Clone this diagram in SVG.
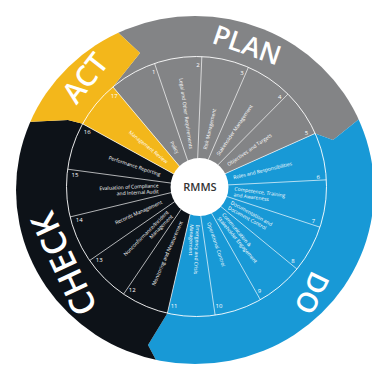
<svg xmlns="http://www.w3.org/2000/svg" width="372" height="367" viewBox="0 0 372 367">
  <defs>
    <clipPath id="wheel-clip">
      <ellipse cx="195" cy="190" rx="179" ry="174"/>
    </clipPath>
    <style>
      .divider { stroke: #ffffff; stroke-width: 0.8; stroke-opacity: 0.85; }
      .ring { fill: none; stroke: #ffffff; stroke-width: 1; stroke-opacity: 0.9; }
      .phase { font-family: "Open Sans", "Liberation Sans", sans-serif; font-weight: 600; fill: #ffffff; text-anchor: middle; }
      .lbl { font-family: "Open Sans", "Liberation Sans", sans-serif; font-size: 5px; fill: #ffffff; }
      .lbl-r { text-anchor: start; }
      .lbl-l { text-anchor: end; }
      .num { font-family: "Open Sans", "Liberation Sans", sans-serif; font-size: 6px; fill: #ffffff; text-anchor: middle; dominant-baseline: central; }
      .hub-text { font-family: "Open Sans", "Liberation Sans", sans-serif; font-weight: 600; font-size: 11px; fill: #333333; text-anchor: middle; }
    </style>
  </defs>

  <rect width="372" height="367" fill="#ffffff"/>

  <!-- PDCA bands: each ends in a chevron pointing clockwise -->
  <g id="bands" clip-path="url(#wheel-clip)">
    <polygon id="band-plan" fill="#838486" points="196.5,186.5 112.94,86.92 140,53 95,11 151.35,-69.55 285.43,-57.82 395.67,19.37 384,99 333,140 315.15,133.38"/>
    <polygon id="band-do" fill="#1899d6" points="196.5,186.5 315.15,133.38 333,140 384,99 456.5,186.5 421.67,316.5 326.5,411.67 196.5,446.5 166,379 148,345 167.39,313.2"/>
    <polygon id="band-check" fill="#0d1218" points="196.5,186.5 167.39,313.2 148,345 166,379 66.5,411.67 -28.67,316.5 -63.5,186.5 5,123 68,120 82.59,123.83"/>
    <polygon id="band-act" fill="#f3b71b" points="196.5,186.5 82.59,123.83 68,120 5,123 -28.67,56.5 66.5,-38.67 95,11 140,53 112.94,86.92"/>
  </g>

  <!-- inner ring outline and the 17 element dividers -->
  <g id="dividers">
    <circle class="ring" cx="196.5" cy="186.5" r="130"/>
    <line class="divider" x1="196.5" y1="186.5" x2="112.94" y2="86.92"/>
    <line class="divider" x1="196.5" y1="186.5" x2="154.56" y2="63.45"/>
    <line class="divider" x1="196.5" y1="186.5" x2="201.83" y2="56.61"/>
    <line class="divider" x1="196.5" y1="186.5" x2="248.40" y2="67.30"/>
    <line class="divider" x1="196.5" y1="186.5" x2="287.96" y2="94.11"/>
    <line class="divider" x1="196.5" y1="186.5" x2="315.15" y2="133.38"/>
    <line class="divider" x1="196.5" y1="186.5" x2="326.33" y2="179.83"/>
    <line class="divider" x1="196.5" y1="186.5" x2="319.97" y2="227.19"/>
    <line class="divider" x1="196.5" y1="186.5" x2="296.94" y2="269.04"/>
    <line class="divider" x1="196.5" y1="186.5" x2="260.34" y2="299.74"/>
    <line class="divider" x1="196.5" y1="186.5" x2="215.13" y2="315.16"/>
    <line class="divider" x1="196.5" y1="186.5" x2="167.39" y2="313.20"/>
    <line class="divider" x1="196.5" y1="186.5" x2="123.57" y2="294.11"/>
    <line class="divider" x1="196.5" y1="186.5" x2="89.64" y2="260.52"/>
    <line class="divider" x1="196.5" y1="186.5" x2="70.11" y2="216.92"/>
    <line class="divider" x1="196.5" y1="186.5" x2="67.66" y2="169.20"/>
    <line class="divider" x1="196.5" y1="186.5" x2="82.59" y2="123.83"/>
  </g>

  <!-- phase titles -->
  <g id="plan"><text class="phase" font-size="27" transform="translate(247 45) rotate(19)" y="9.6">PLAN</text></g>
  <g id="do"><text class="phase" font-size="28" transform="translate(312 293) rotate(116)" y="10">DO</text></g>
  <g id="check"><text class="phase" font-size="34" transform="translate(64 264) rotate(-115)" y="12.1">CHECK</text></g>
  <g id="act"><text class="phase" font-size="29" transform="translate(85 78) rotate(-52)" y="10.3">ACT</text></g>

  <!-- elements 1-17 -->
  <g id="seg-1">
    <text class="lbl lbl-l" transform="translate(196.5 186.5) rotate(60.6)" x="-38" y="1.75">Policy</text>
    <text class="num" x="153.83" y="72.2">1</text>
  </g>
  <g id="seg-2">
    <text class="lbl lbl-l" transform="translate(196.5 186.5) rotate(81.8)" x="-38" y="1.75">Legal and Other Requirements</text>
    <text class="num" x="197.99" y="64.51">2</text>
  </g>
  <g id="seg-3">
    <text class="lbl lbl-r" transform="translate(196.5 186.5) rotate(-77)" x="38" y="1.75">Risk Management</text>
    <text class="num" x="241.97" y="73.3">3</text>
  </g>
  <g id="seg-4">
    <text class="lbl lbl-r" transform="translate(196.5 186.5) rotate(-55.9)" x="38" y="1.75">Stakeholder Management</text>
    <text class="num" x="279.78" y="97.34">4</text>
  </g>
  <g id="seg-5">
    <text class="lbl lbl-r" transform="translate(196.5 186.5) rotate(-34.7)" x="38" y="1.75">Objectives and Targets</text>
    <text class="num" x="306.36" y="133.45">5</text>
  </g>
  <g id="seg-6">
    <text class="lbl lbl-r" transform="translate(196.5 186.5) rotate(-13.5)" x="38" y="1.75">Roles and Responsibilities</text>
    <text class="num" x="318.11" y="176.74">6</text>
  </g>
  <g id="seg-7">
    <text class="lbl lbl-r" transform="translate(196.5 186.5) rotate(7.7)"><tspan x="38" y="-1.2">Competence, Training</tspan><tspan x="38" y="4.8">and Awareness</tspan></text>
    <text class="num" x="313.42" y="221.33">7</text>
  </g>
  <g id="seg-8">
    <text class="lbl lbl-r" transform="translate(196.5 186.5) rotate(28.8)"><tspan x="38" y="-1.2">Documentation and</tspan><tspan x="38" y="4.8">Document Control</tspan></text>
    <text class="num" x="292.97" y="261.2">8</text>
  </g>
  <g id="seg-9">
    <text class="lbl lbl-r" transform="translate(196.5 186.5) rotate(50)"><tspan x="38" y="-1.2">Communication &amp;</tspan><tspan x="38" y="4.8">Stakeholder Engagement</tspan></text>
    <text class="num" x="259.44" y="291.02">9</text>
  </g>
  <g id="seg-10">
    <text class="lbl lbl-r" transform="translate(196.5 186.5) rotate(71.2)" x="38" y="1.75">Operational Control</text>
    <text class="num" x="218.92" y="306.43">10</text>
  </g>
  <g id="seg-11">
    <text class="lbl lbl-r" transform="translate(196.5 186.5) rotate(92.4)"><tspan x="38" y="-1.2">Emergency and Crisis</tspan><tspan x="38" y="4.8">Management</tspan></text>
    <text class="num" x="174.08" y="306.43">11</text>
  </g>
  <g id="seg-12">
    <text class="lbl lbl-l" transform="translate(196.5 186.5) rotate(-66.4)" x="-38" y="1.75">Monitoring and Measurement</text>
    <text class="num" x="132.27" y="290.22">12</text>
  </g>
  <g id="seg-13">
    <text class="lbl lbl-l" transform="translate(196.5 186.5) rotate(-45.3)"><tspan x="-38" y="-1.2">Nonconformance/Incident</tspan><tspan x="-38" y="4.8">Management</tspan></text>
    <text class="num" x="99.17" y="260.05">13</text>
  </g>
  <g id="seg-14">
    <text class="lbl lbl-l" transform="translate(196.5 186.5) rotate(-24.1)" x="-38" y="1.75">Records Management</text>
    <text class="num" x="79.16" y="219.88">14</text>
  </g>
  <g id="seg-15">
    <text class="lbl lbl-l" transform="translate(196.5 186.5) rotate(-2.9)"><tspan x="-38" y="-1.2">Evaluation of Compliance</tspan><tspan x="-38" y="4.8">and Internal Audit</tspan></text>
    <text class="num" x="75.02" y="175.23">15</text>
  </g>
  <g id="seg-16">
    <text class="lbl lbl-l" transform="translate(196.5 186.5) rotate(18.3)" x="-38" y="1.75">Performance Reporting</text>
    <text class="num" x="87.29" y="132.12">16</text>
  </g>
  <g id="seg-17">
    <text class="lbl lbl-l" transform="translate(196.5 186.5) rotate(39.4)" x="-38" y="1.75">Management Review</text>
    <text class="num" x="114.3" y="96.35">17</text>
  </g>

  <!-- hub -->
  <g id="hub">
    <circle cx="199.5" cy="187" r="29" fill="#ffffff"/>
    <text class="hub-text" x="200" y="190.9">RMMS</text>
  </g>
</svg>
